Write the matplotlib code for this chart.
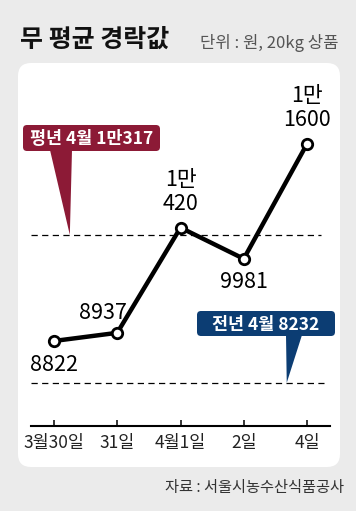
import matplotlib.pyplot as plt
import matplotlib.transforms as mtrans
from matplotlib.patches import FancyBboxPatch, Polygon

plt.rcParams['font.family'] = ['Liberation Sans Narrow', 'Noto Sans CJK KR', 'DejaVu Sans']

# data
dates = ["3월30일", "31일", "4월1일", "2일", "4일"]
prices = [8822, 8937, 10420, 9981, 11600]
price_labels = ["8822", "8937", "1만\n420", "9981", "1만\n1600"]
avg_year = 10317          # 평년 4월
last_year = 8232          # 전년 4월
avg_label = "평년 4월 1만317"
last_label = "전년 4월 8232"

W, H = 356, 511
fig = plt.figure(figsize=(W / 100, H / 100), dpi=100)
fig.patch.set_facecolor("#ebebeb")

# pixel transform (origin top-left)
px = mtrans.Affine2D().scale(1 / W, -1 / H).translate(0, 1) + fig.transFigure

# white panel
panel = FancyBboxPatch((18, 63), 322, 404, boxstyle="round,pad=0,rounding_size=13",
                       transform=px, facecolor="white", edgecolor="none", zorder=0)
fig.patches.append(panel)

ax = fig.add_axes([31 / W, (H - 426) / H, 299 / W, 326 / H])
ax.set_zorder(2)
ax.patch.set_alpha(0)
x = list(range(len(dates)))
ax.set_xlim(-0.364, 4.364)
ax.set_ylim(7623, 12220)

for s in ["top", "right", "left"]:
    ax.spines[s].set_visible(False)
ax.spines["bottom"].set_linewidth(1.5)
ax.set_yticks([])
ax.set_xticks(x)
ax.set_xticklabels(dates, fontsize=12.5, color="#222222")
ax.tick_params(axis="x", direction="in", length=4.5, width=1.1, pad=6)

# reference lines
ax.axhline(avg_year, xmin=0, xmax=0.97, color="black", lw=0.9, ls=(0, (5, 3.5)))
ax.axhline(last_year, xmin=0, xmax=0.98, color="black", lw=0.9, ls=(0, (5, 3.5)))

ax.plot(x, prices, color="black", lw=3.2, solid_capstyle="round", zorder=3)
ax.plot(x, prices, ls="none", marker="o", ms=7.5, mfc="white", mec="black", mew=2, zorder=4)

offsets = [(0, -24), (-14, 20), (0, 36), (0, -23), (0, 36)]
for xi, yi, lab, off in zip(x, prices, price_labels, offsets):
    ax.annotate(lab, (xi, yi), xytext=off, textcoords="offset pixels",
                ha="center", va="center", fontsize=15.5, linespacing=1.12, color="black", zorder=5)

# callouts
def callout(text, box, base, tip_data, color):
    bx, by, bw, bh = box
    tx, ty = (fig.transFigure.inverted() + mtrans.Affine2D().scale(W, H)).transform(
        ax.transData.transform(tip_data))
    ty = H - ty
    fig.patches.append(FancyBboxPatch((bx, by), bw, bh, boxstyle="round,pad=0,rounding_size=4",
                                      transform=px, facecolor=color, edgecolor="none", zorder=6))
    fig.patches.append(Polygon([(base[0], by + bh - 1), (base[1], by + bh - 1), (tx, ty)],
                               closed=True, transform=px, facecolor=color, edgecolor="none", zorder=6))
    fig.text((bx + bw / 2) / W, 1 - (by + bh / 2 + 1) / H, text, color="white", fontsize=12.5,
             fontweight="bold", ha="center", va="center", zorder=7)

callout(avg_label, (23, 125, 137, 26), (50, 72), (0.25, avg_year), "#8c1a36")
callout(last_label, (197, 311, 138, 25), (286, 302), (3.68, last_year), "#0c3d73")

# titles
fig.text(20 / W, 1 - 40 / H, "무 평균 경락값", fontsize=18, fontweight="bold",
         family=["Noto Sans CJK KR"], ha="left", va="center", color="#111111")
fig.text(338 / W, 1 - 43 / H, "단위 : 원, 20kg 상품", fontsize=12, ha="right", va="center",
         color="#555555")
fig.text(344 / W, 1 - 487 / H, "자료 : 서울시농수산식품공사", fontsize=11, ha="right",
         va="center", color="#333333")

fig.savefig("out.png", dpi=100, facecolor=fig.get_facecolor())
